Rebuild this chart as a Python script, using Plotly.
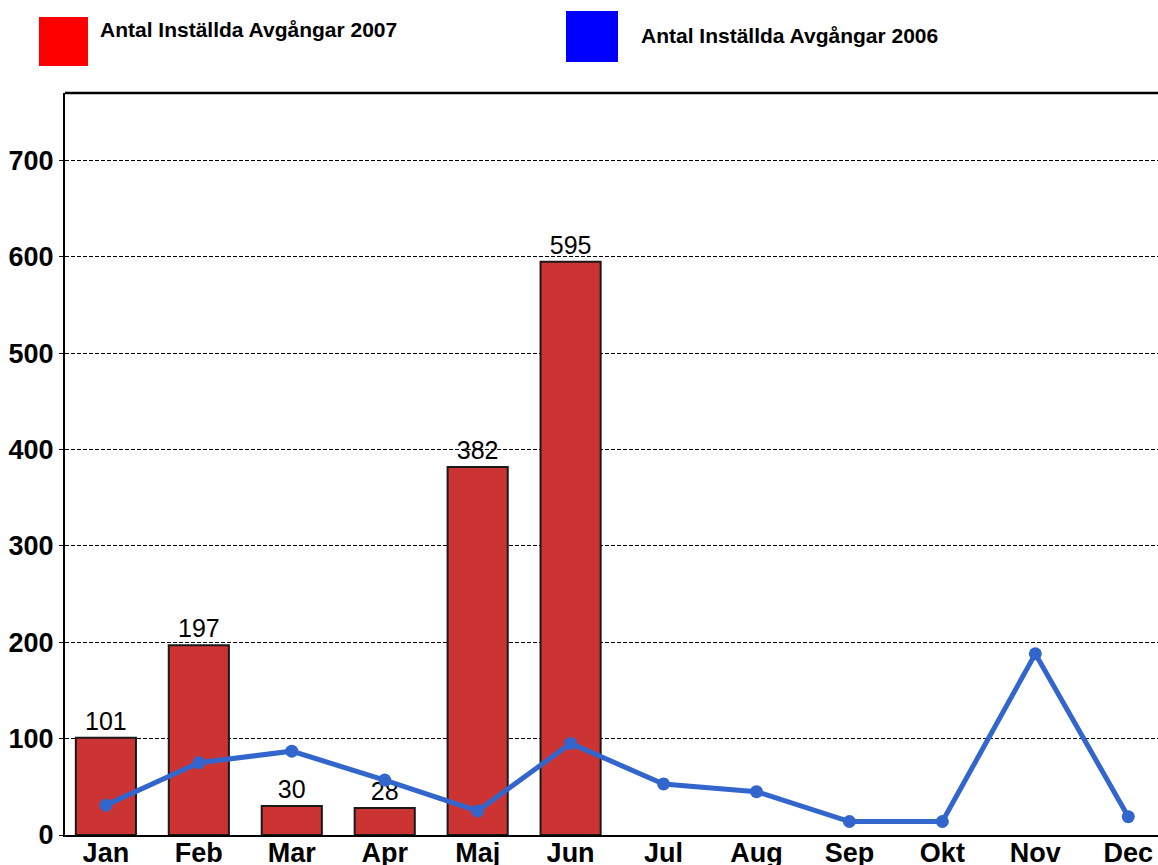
import plotly.graph_objects as go

months = ["Jan", "Feb", "Mar", "Apr", "Maj", "Jun", "Jul", "Aug", "Sep", "Okt", "Nov", "Dec"]
bar_months = ["Jan", "Feb", "Mar", "Apr", "Maj", "Jun"]
values_2007 = [101, 197, 30, 28, 382, 595]
values_2006 = [31, 75, 87, 57, 25, 95, 53, 45, 14, 14, 188, 19]
y_ticks = [0, 100, 200, 300, 400, 500, 600, 700]
legend_2007 = "Antal Inställda Avgångar 2007"
legend_2006 = "Antal Inställda Avgångar 2006"

FONT = "Arial, Liberation Sans, sans-serif"
W, H = 1158, 865
ML, MR, MT, MB = 65, 0, 93, 30
PW, PH = W - ML - MR, H - MT - MB


def px_x(p):
    return (p - ML) / PW


def px_y(p):
    return (H - MB - p) / PH


fig = go.Figure()
fig.add_trace(go.Bar(
    x=bar_months, y=values_2007,
    marker=dict(color="#CC3333", line=dict(color="#1a1a1a", width=2)),
    text=[str(v) for v in values_2007], textposition="outside",
    textfont=dict(family=FONT, size=25, color="#000000"),
    cliponaxis=False, hoverinfo="skip", showlegend=False,
))
fig.add_trace(go.Scatter(
    x=months, y=values_2006, mode="lines+markers",
    line=dict(color="#3366CC", width=5),
    marker=dict(color="#3366CC", size=13),
    cliponaxis=False, hoverinfo="skip", showlegend=False,
))

shapes = [
    dict(type="line", xref="paper", yref="paper", x0=0, x1=1, y0=1, y1=1,
         line=dict(color="#000000", width=2.5)),
    dict(type="rect", xref="paper", yref="paper",
         x0=px_x(39), x1=px_x(88), y0=px_y(66), y1=px_y(17),
         fillcolor="#FF0000", line=dict(width=0)),
    dict(type="rect", xref="paper", yref="paper",
         x0=px_x(566), x1=px_x(618), y0=px_y(62), y1=px_y(11),
         fillcolor="#0000FF", line=dict(width=0)),
]
annotations = [
    dict(text="<b>%s</b>" % legend_2007, xref="paper", yref="paper",
         x=px_x(98), y=px_y(30), xanchor="left", yanchor="middle", showarrow=False,
         font=dict(family=FONT, size=21, color="#000000")),
    dict(text="<b>%s</b>" % legend_2006, xref="paper", yref="paper",
         x=px_x(639), y=px_y(35), xanchor="left", yanchor="middle", showarrow=False,
         font=dict(family=FONT, size=21, color="#000000")),
]

fig.update_layout(
    width=W, height=H,
    margin=dict(l=ML, r=MR, t=MT, b=MB, pad=0, autoexpand=False),
    paper_bgcolor="#FFFFFF", plot_bgcolor="#FFFFFF",
    bargap=0.353,
    shapes=shapes, annotations=annotations,
    xaxis=dict(
        type="category", categoryorder="array", categoryarray=months,
        range=[-0.44, 11.32], showgrid=False, zeroline=False,
        showline=True, linecolor="#000000", linewidth=2,
        ticks="", ticklabelstandoff=-7,
        tickfont=dict(family=FONT, size=27, color="#000000"),
        tickvals=months, ticktext=["<b>%s</b>" % m for m in months],
        automargin=False, fixedrange=True,
    ),
    yaxis=dict(
        range=[0, 770], tickvals=y_ticks, ticktext=["<b>%d</b>" % v for v in y_ticks],
        showgrid=True, gridcolor="#000000", gridwidth=1.3, griddash="4px,2px",
        zeroline=False, showline=True, linecolor="#000000", linewidth=2,
        ticks="outside", ticklen=4, tickcolor="#000000", tickwidth=1,
        tickfont=dict(family=FONT, size=27, color="#000000"),
        automargin=False, fixedrange=True,
    ),
    hovermode=False,
)

fig.write_html(
    "out.html",
    config={"displayModeBar": False},
    post_script="document.body.style.margin='0';document.body.style.overflow='hidden';",
)
